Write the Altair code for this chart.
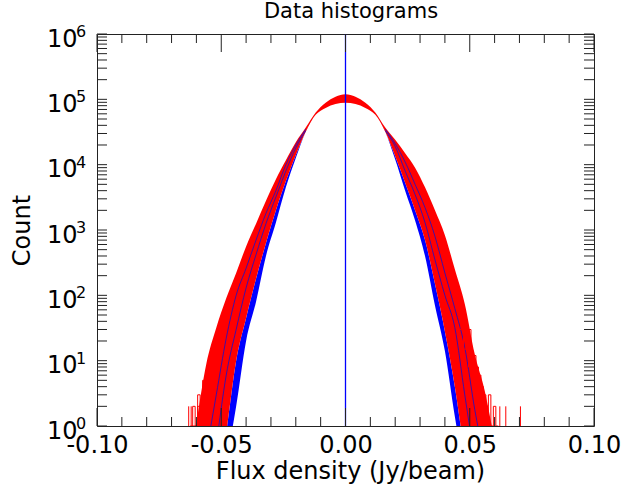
import altair as alt
import pandas as pd

# ---------------- data ----------------
title_text = ["Data histograms"]

x_grid = [-0.064, -0.060, -0.056, -0.052, -0.048, -0.044, -0.040, -0.036, -0.032,
          -0.028, -0.024, -0.020, -0.016, -0.012, -0.008, -0.004, 0.000,
          0.004, 0.008, 0.012, 0.016, 0.020, 0.024, 0.028, 0.032,
          0.036, 0.040, 0.044, 0.048, 0.052, 0.056, 0.060, 0.064]

# widest red histogram (outer edge of the red band)
widest_red = [0.1, 1.1, 9, 32, 90, 220, 560, 1250, 2800, 6000, 11700, 22000, 37000,
              58000, 74000, 85000, 89000, 85000, 74000, 58000, 37000, 24000, 15000,
              9000, 4500, 2000, 830, 250, 74, 12.6, 3.5, 0.6, 0.1]
# narrowest red histogram
narrowest_red = [0.1, 0.1, 0.1, 0.1, 0.8, 10, 45, 180, 630, 2000, 5600, 14000, 32000,
                 63000, 89000, 110000, 120000, 110000, 89000, 63000, 32000, 13500, 5300,
                 2000, 700, 150, 28, 4, 0.4, 0.1, 0.1, 0.1, 0.1]
# narrowest blue histogram (inner edge of everything)
narrowest_blue = [0.1, 0.1, 0.1, 0.1, 0.3, 2, 20, 80, 400, 1300, 4500, 12600, 32000,
                  63000, 89000, 110000, 120000, 110000, 89000, 63000, 32000, 12000, 4000,
                  1400, 400, 70, 14, 1.4, 0.2, 0.1, 0.1, 0.1, 0.1]

# blue histograms showing through the red band (tails only)
blue_a_left_x = [-0.052, -0.048, -0.044, -0.040, -0.036, -0.032, -0.028, -0.024, -0.020, -0.016]
blue_a_left_y = [0.5, 6, 30, 130, 420, 1250, 3200, 8000, 18000, 33000]
blue_a_right_x = [0.016, 0.020, 0.024, 0.028, 0.032, 0.036, 0.040, 0.044, 0.048, 0.052]
blue_a_right_y = [33000, 19000, 8000, 3500, 1300, 350, 100, 32, 3, 0.3]
blue_b_left_x = [-0.056, -0.052, -0.048, -0.044, -0.040, -0.036, -0.032, -0.028, -0.024, -0.020, -0.016]
blue_b_left_y = [0.4, 3, 22, 100, 260, 700, 1800, 4000, 10000, 20000, 35000]
blue_b_right_x = [0.016, 0.020, 0.024, 0.028, 0.032, 0.036, 0.040, 0.044, 0.048, 0.052, 0.056]
blue_b_right_y = [35000, 21000, 11000, 5000, 2200, 800, 220, 63, 16, 1.8, 0.3]

# noisy low-count red histogram tails
noise_la_x = [-0.063, -0.062, -0.061, -0.060, -0.059, -0.058, -0.057, -0.056, -0.055, -0.054, -0.053, -0.052, -0.051, -0.050]
noise_la_y = [0.3, 1, 2, 1, 3, 2, 5, 3, 8, 6, 14, 10, 20, 16]
noise_lb_x = [-0.062, -0.061, -0.060, -0.059, -0.058, -0.057, -0.056, -0.055, -0.054, -0.053, -0.052, -0.051, -0.050, -0.049]
noise_lb_y = [0.3, 1, 1, 2, 2, 4, 3, 7, 5, 11, 9, 18, 14, 30]
noise_ra_x = [0.048, 0.049, 0.050, 0.051, 0.052, 0.053, 0.054, 0.055, 0.056, 0.057, 0.058, 0.059, 0.060, 0.061, 0.062]
noise_ra_y = [40, 25, 30, 14, 12, 8, 6, 4, 3, 2, 3, 1, 2, 1, 0.3]
noise_rb_x = [0.046, 0.047, 0.048, 0.049, 0.050, 0.051, 0.052, 0.053, 0.054, 0.055, 0.056, 0.057, 0.058, 0.059]
noise_rb_y = [30, 35, 15, 20, 8, 11, 5, 6, 2, 3, 1, 2, 1, 0.3]

# isolated single-count bins far in the tails
spike_x = [-0.0631, -0.0621, 0.0621, 0.0645, 0.0704]
spike_lo = [0.5, 0.5, 0.5, 0.5, 0.5]
spike_hi = [2, 2, 2, 2, 2]

# central zero-value spike
center_x = [0.0]
center_lo = [0.5]
center_hi = [1.0e6]

# axis ticks
x_major = [-0.10, -0.05, 0.00, 0.05, 0.10]
x_minor = [-0.09, -0.08, -0.07, -0.06, -0.04, -0.03, -0.02, -0.01,
           0.01, 0.02, 0.03, 0.04, 0.06, 0.07, 0.08, 0.09]
y_decades = [1, 10, 100, 1000, 10000, 100000, 1000000]
y_exponents = ["0", "1", "2", "3", "4", "5", "6"]
y_minor_mult = [2, 3, 4, 5, 6, 7, 8, 9]

# ---------------- layout ----------------
W, H = 497, 392
FONT = "DejaVu Sans"
RED = "#ff0000"
BLUE = "#0000ff"

xscale = alt.Scale(domain=[-0.1, 0.1], nice=False, zero=False)
yscale = alt.Scale(type="log", domain=[1, 1e6], nice=False)

x_axis = alt.Axis(values=x_major,
                  labelExpr="(datum.value < 0 ? '-' : '') + format(abs(datum.value), '.2f')",
                  ticks=False, tickSize=0, domain=False, grid=False,
                  labelFont=FONT, labelFontSize=24, labelColor="black",
                  labelBaseline="middle", labelPadding=19,
                  labelFlush=False, labelOverlap=False,
                  title="Flux density (Jy/beam)", titleFont=FONT, titleFontSize=24,
                  titleFontWeight="normal", titleColor="black",
                  titleX=253, titleY=52, titleBaseline="alphabetic", titleAlign="center")
y_axis = alt.Axis(values=y_decades, labelExpr="'10'",
                  ticks=False, tickSize=0, domain=False, grid=False,
                  labelFont=FONT, labelFontSize=24, labelColor="black",
                  labelAlign="right", labelBaseline="middle", labelPadding=20,
                  labelOffset=5, labelFlush=False, labelOverlap=False,
                  title="Count", titleFont=FONT, titleFontSize=24,
                  titleFontWeight="normal", titleColor="black",
                  titleAngle=270, titleX=-75, titleY=196,
                  titleBaseline="middle", titleAlign="center")


def X(field):
    return alt.X(field, type="quantitative", scale=xscale, axis=x_axis)


def Y(field):
    return alt.Y(field, type="quantitative", scale=yscale, axis=y_axis)


band = pd.DataFrame({"x": x_grid, "w": widest_red, "r": narrowest_red, "n": narrowest_blue})
band["red_lo"] = band[["w", "r"]].min(axis=1)
band["red_hi"] = band[["w", "r"]].max(axis=1)
band["blue_lo"] = band[["n", "r"]].min(axis=1)
band["blue_hi"] = band[["n", "r"]].max(axis=1)

blue_lines = pd.concat([
    pd.DataFrame({"x": blue_a_left_x, "y": blue_a_left_y, "s": "a_left"}),
    pd.DataFrame({"x": blue_a_right_x, "y": blue_a_right_y, "s": "a_right"}),
    pd.DataFrame({"x": blue_b_left_x, "y": blue_b_left_y, "s": "b_left"}),
    pd.DataFrame({"x": blue_b_right_x, "y": blue_b_right_y, "s": "b_right"}),
])
noise = pd.concat([
    pd.DataFrame({"x": noise_la_x, "y": noise_la_y, "s": "la"}),
    pd.DataFrame({"x": noise_lb_x, "y": noise_lb_y, "s": "lb"}),
    pd.DataFrame({"x": noise_ra_x, "y": noise_ra_y, "s": "ra"}),
    pd.DataFrame({"x": noise_rb_x, "y": noise_rb_y, "s": "rb"}),
])
spikes = pd.DataFrame({"x": spike_x, "lo": spike_lo, "hi": spike_hi})
center = pd.DataFrame({"x": center_x, "lo": center_lo, "hi": center_hi})

y_ticks = pd.DataFrame({"v": [d * m for d in y_decades[:-1] for m in [1] + y_minor_mult] + [y_decades[-1]]})
xmaj = pd.DataFrame({"v": x_major})
xmin = pd.DataFrame({"v": x_minor})
exps = pd.DataFrame({"v": y_decades, "e": y_exponents})
titles = pd.DataFrame({"t": title_text})

blue_area = alt.Chart(band).mark_area(color=BLUE, clip=True, interpolate="monotone").encode(
    x=X("x"), y=Y("blue_lo"), y2="blue_hi")
red_area = alt.Chart(band).mark_area(color=RED, clip=True, interpolate="monotone").encode(
    x=X("x"), y=Y("red_lo"), y2="red_hi")
blue_streaks = alt.Chart(blue_lines).mark_line(color="#1010d0", strokeWidth=0.8, clip=True,
                                               interpolate="monotone").encode(
    x=X("x"), y=Y("y"), detail="s:N")
noise_lines = alt.Chart(noise).mark_line(color=RED, strokeWidth=1, clip=True,
                                         interpolate="step").encode(
    x=X("x"), y=Y("y"), detail="s:N")
spike_rules = alt.Chart(spikes).mark_rule(color=RED, strokeWidth=1, clip=True).encode(
    x=X("x"), y=Y("lo"), y2="hi")
center_rule = alt.Chart(center).mark_rule(color=BLUE, strokeWidth=1.3, clip=True).encode(
    x=X("x"), y=Y("lo"), y2="hi")

tick_col = "#222222"
xmaj_bot = alt.Chart(xmaj).mark_rule(color=tick_col).encode(x=X("v"), y=alt.value(H), y2=alt.value(H - 18))
xmaj_top = alt.Chart(xmaj).mark_rule(color=tick_col).encode(x=X("v"), y=alt.value(0), y2=alt.value(18))
xmin_bot = alt.Chart(xmin).mark_rule(color=tick_col).encode(x=X("v"), y=alt.value(H), y2=alt.value(H - 9))
xmin_top = alt.Chart(xmin).mark_rule(color=tick_col).encode(x=X("v"), y=alt.value(0), y2=alt.value(9))
y_left = alt.Chart(y_ticks).mark_rule(color=tick_col).encode(y=Y("v"), x=alt.value(0), x2=alt.value(10))
y_right = alt.Chart(y_ticks).mark_rule(color=tick_col).encode(y=Y("v"), x=alt.value(W - 10), x2=alt.value(W))
exp_text = alt.Chart(exps).mark_text(align="left", baseline="middle", font=FONT, fontSize=16,
                                     color="black", dy=-2).encode(
    y=Y("v"), x=alt.value(-21), text="e:N")
title_mark = alt.Chart(titles).mark_text(align="center", baseline="alphabetic", font=FONT,
                                         fontSize=21, color="black").encode(
    x=alt.value(254), y=alt.value(-16), text="t:N")

chart = alt.layer(
    blue_area, red_area, blue_streaks, noise_lines, spike_rules, center_rule,
    xmaj_bot, xmaj_top, xmin_bot, xmin_top, y_left, y_right, exp_text, title_mark,
).properties(
    width=W, height=H,
    autosize=alt.AutoSizeParams(type="none"),
    padding={"left": 97, "top": 34, "right": 50, "bottom": 59},
    background="white",
).configure_view(stroke="#222222", strokeWidth=1)

chart.save("out.html", embed_options={"renderer": "svg", "actions": False})
